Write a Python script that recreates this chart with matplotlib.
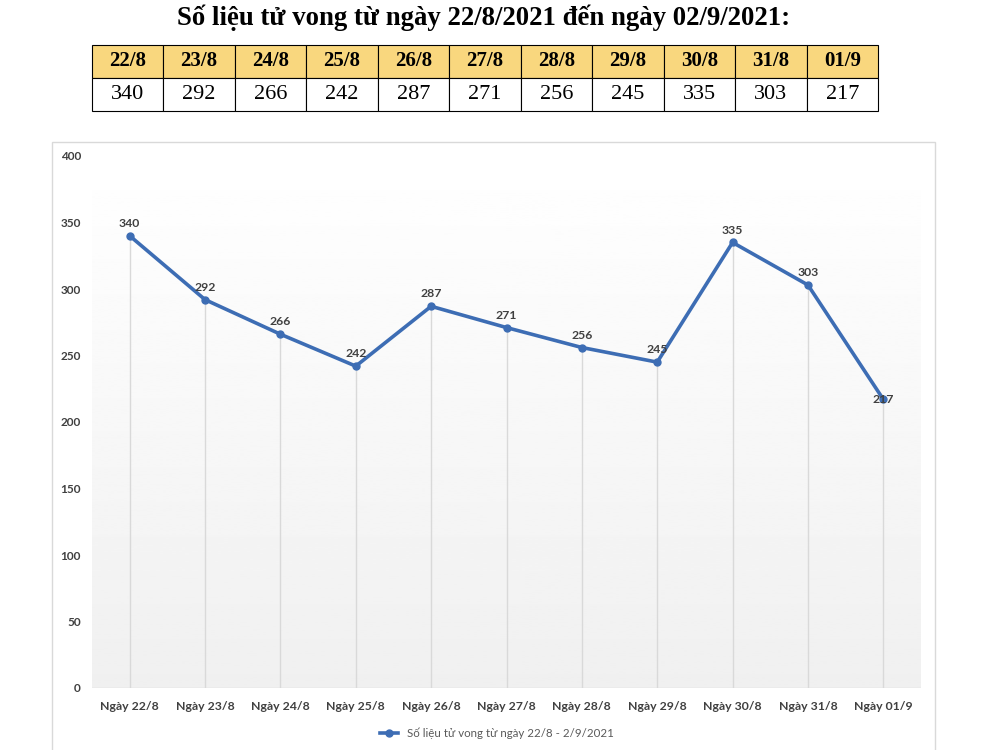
import numpy as np
import matplotlib.pyplot as plt
from matplotlib.patches import Rectangle

# data
dates = ["22/8", "23/8", "24/8", "25/8", "26/8", "27/8", "28/8", "29/8", "30/8", "31/8", "01/9"]
deaths = [340, 292, 266, 242, 287, 271, 256, 245, 335, 303, 217]
x_labels = ["Ngày " + d for d in dates]
y_ticks = [0, 50, 100, 150, 200, 250, 300, 350, 400]

title = "Số liệu tử vong từ ngày 22/8/2021 đến ngày 02/9/2021:"
series_name = "Số liệu tử vong từ ngày 22/8 - 2/9/2021"

line_color = "#3d6db4"
label_color = "#404040"
chart_font = "Lato"

fig = plt.figure(figsize=(10, 7.5), dpi=100)

# title
fig.text(0.484, 1 - 18 / 750, title, ha="center", va="center",
         fontfamily="Liberation Serif", fontweight="bold", fontsize=19.3)

# table on top
tax = fig.add_axes([0.092, 1 - 111 / 750, 0.786, 66 / 750])
tax.axis("off")
tbl = tax.table(cellText=[[str(v) for v in deaths]], colLabels=dates,
                cellLoc="center", bbox=[0, 0, 1, 1])
tbl.auto_set_font_size(False)
for (r, c), cell in tbl.get_celld().items():
    cell.set_edgecolor("black")
    cell.set_linewidth(0.8)
    cell.get_text().set_fontfamily("Liberation Serif")
    if r == 0:
        cell.set_facecolor("#f9d77e")
        cell.get_text().set_fontweight("bold")
        cell.get_text().set_fontsize(15)
    else:
        cell.get_text().set_fontsize(16)

# chart frame
fig.patches.append(Rectangle((52 / 1000, -0.02), (935 - 52) / 1000, 1 - 142 / 750 + 0.02,
                             transform=fig.transFigure, fill=False,
                             edgecolor="#d9d9d9", linewidth=1, zorder=0))

ax = fig.add_axes([0.092, 1 - 688 / 750, 0.829, (688 - 156) / 750])
x = np.arange(len(dates))
ax.set_xlim(-0.5, len(dates) - 0.5)
ax.set_ylim(0, 400)

# gradient background
grad = np.linspace(0.94, 1.0, 256).reshape(-1, 1)
ax.imshow(grad, cmap="gray", vmin=0, vmax=1, aspect="auto",
          extent=[-0.5, len(dates) - 0.5, 0, 400], origin="lower", zorder=0)

ax.vlines(x, 0, deaths, color="#d9d9d9", linewidth=1, zorder=1)
ax.axhline(0, color="#d9d9d9", linewidth=1, zorder=1)
ax.plot(x, deaths, color=line_color, linewidth=2.6, marker="o", markersize=5,
        label=series_name, zorder=3)

for i, (xi, v) in enumerate(zip(x, deaths)):
    if i == len(deaths) - 1:
        # last label sits right on the point in the original
        ax.annotate(str(v), (xi, v), xytext=(0, 0), textcoords="offset points",
                    ha="center", va="center", fontsize=8.8, fontweight="bold",
                    color=label_color, fontfamily=chart_font, zorder=4)
    else:
        ax.annotate(str(v), (xi, v), xytext=(0, 5), textcoords="offset points",
                    ha="center", va="bottom", fontsize=8.8, fontweight="bold",
                    color=label_color, fontfamily=chart_font, zorder=4)

ax.set_xticks(x)
ax.set_xticklabels(x_labels, fontsize=8.8, fontweight="bold", color=label_color,
                   fontfamily=chart_font)
ax.set_yticks(y_ticks)
ax.set_yticklabels([str(t) for t in y_ticks], fontsize=8.5, fontweight="bold",
                   color=label_color, fontfamily=chart_font)
ax.tick_params(axis="both", length=0)
ax.tick_params(axis="x", pad=9)
ax.tick_params(axis="y", pad=8)
for s in ax.spines.values():
    s.set_visible(False)

leg = fig.legend(loc="center", bbox_to_anchor=(0.497, 1 - 733 / 750), frameon=False,
                 prop={"family": chart_font, "size": 8.3}, handlelength=1.6)
for t in leg.get_texts():
    t.set_color("#595959")

fig.savefig("out.png", dpi=100)
